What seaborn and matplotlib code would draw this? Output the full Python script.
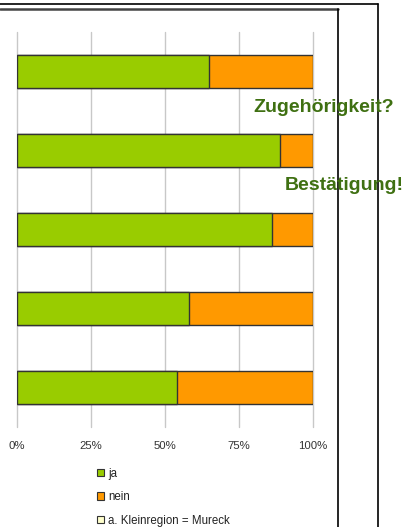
import matplotlib
matplotlib.use("Agg")
import matplotlib.pyplot as plt
from matplotlib.lines import Line2D
from matplotlib.patches import Patch
import seaborn as sns
import pandas as pd

# Survey questions (one bar each), share of "ja" answers in percent
questions = ["F1", "F2", "F3", "F4", "F5"]
ja = [65, 89, 86, 58, 54]
nein = [35, 11, 14, 42, 46]
ticks = [0, 25, 50, 75, 100]
tick_labels = ["0%", "25%", "50%", "75%", "100%"]
legend_labels = ["ja", "nein", "a. Kleinregion = Mureck"]

GREEN = "#99cc00"
ORANGE = "#ff9900"
PALE = "#ffffcc"
TEXT_GREEN = "#3f7012"

sns.set_theme(style="white")
plt.rcParams["font.family"] = ["Liberation Sans", "DejaVu Sans"]

df = pd.DataFrame({"frage": questions, "ja": ja, "nein": nein})
df["total"] = df["ja"] + df["nein"]

W, H = 404, 527
fig = plt.figure(figsize=(W / 100, H / 100), dpi=100)
ax = fig.add_axes([17 / W, 1 - 427 / H, (313 - 17) / W, (427 - 32) / H])

bar_kw = dict(orient="h", width=0.41, edgecolor="#333333", linewidth=1.0, ax=ax)
sns.barplot(data=df, x="total", y="frage", color=ORANGE, saturation=1, **bar_kw)
sns.barplot(data=df, x="ja", y="frage", color=GREEN, saturation=1, **bar_kw)

ax.set_xlim(0, 100)
ax.set_ylim(len(questions) - 0.5, -0.5)
ax.set_xticks(ticks)
ax.set_xticklabels(tick_labels, fontsize=8.2, color="#333333")
ax.tick_params(axis="x", length=0, pad=10)
ax.set_yticks([])
ax.set_xlabel("")
ax.set_ylabel("")
for s in ax.spines.values():
    s.set_visible(False)
ax.xaxis.grid(True, color="#c8c8c8", linewidth=1.0)
for gl in ax.get_xgridlines():
    gl.set_clip_on(False)
ax.set_axisbelow(True)

# Legend below the plot
handles = [Patch(facecolor=c, edgecolor="#333333", linewidth=0.8)
           for c in (GREEN, ORANGE, PALE)]
fig.legend(handles, legend_labels, loc="upper left",
           bbox_to_anchor=(97 / W, 1 - 467.5 / H), frameon=False,
           fontsize=8.3, handlelength=0.6, handleheight=0.6,
           handletextpad=0.35, labelspacing=1.0, borderpad=0,
           borderaxespad=0, labelcolor="#222222")

# Frame lines around the chart area
lw = 1.2
fig.add_artist(Line2D([0, 378 / W], [1 - 4.3 / H] * 2, color="black", lw=lw))
fig.add_artist(Line2D([0, 338 / W], [1 - 9 / H] * 2, color="#444444", lw=1.8))
fig.add_artist(Line2D([338 / W] * 2, [1 - 9 / H, 0], color="black", lw=lw))
fig.add_artist(Line2D([378 / W] * 2, [1 - 4.3 / H, 0], color="black", lw=lw))

# Annotations
fig.text(253 / W, 1 - 112 / H, "Zugehörigkeit?", fontsize=14, fontweight="bold",
         color=TEXT_GREEN, va="baseline", ha="left")
fig.text(285 / W, 1 - 190 / H, "Bestätigung!", fontsize=14, fontweight="bold",
         color=TEXT_GREEN, va="baseline", ha="left")

fig.savefig("out.png", dpi=100, facecolor="white")
